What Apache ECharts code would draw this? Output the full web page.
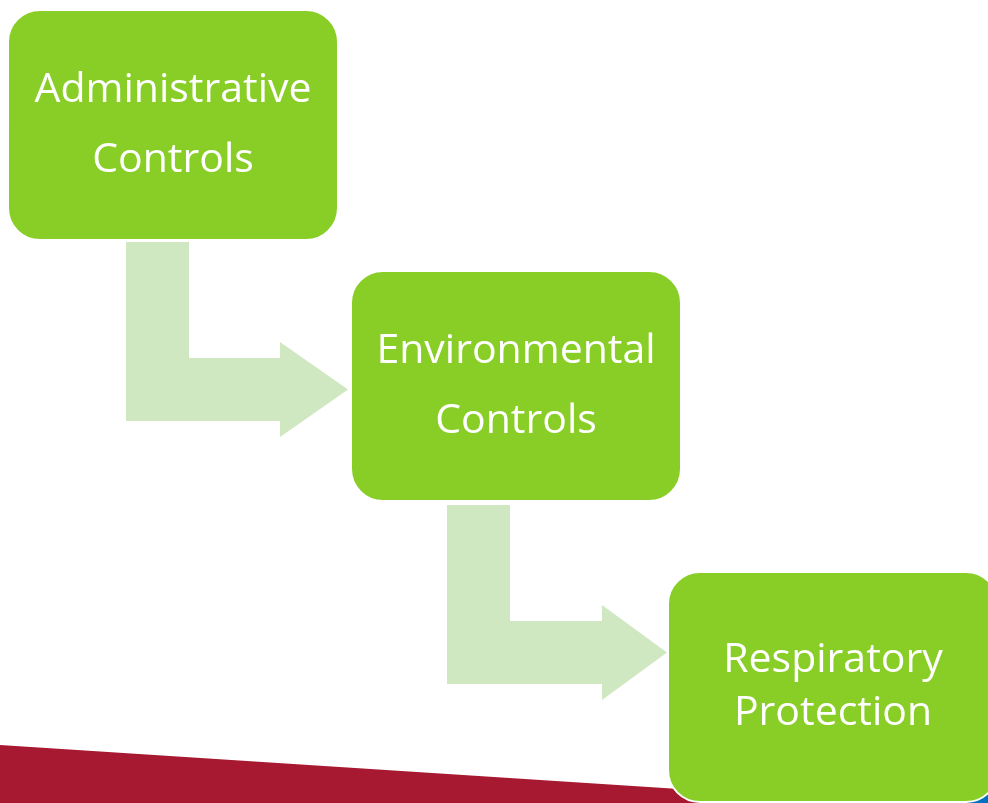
<!DOCTYPE html>
<html>
<head>
<meta charset="utf-8">
<title>Controls hierarchy</title>
<script src="https://cdn.jsdelivr.net/npm/echarts@6/dist/echarts.min.js"></script>
<style>
    html, body { margin: 0; padding: 0; background: #ffffff; }
    #main { width: 988px; height: 803px; }
</style>
</head>
<body>
<div id="main"></div>
<script>
// steps of the diagram, top to bottom
var stepNames = ["Administrative\nControls", "Environmental\nControls", "Respiratory\nProtection"];
var stepLineHeights = [70, 70, 53];

// layout of the boxes (left, top) and box size
var boxLeft = [8, 351, 668];
var boxTop = [10, 271, 572];
var boxWidth = 330;
var boxHeight = 230;

// bent arrows between the boxes: stem left, stem top, bar top, head base x, tip x
var arrowStemLeft = [126, 447];
var arrowStemTop = [242, 505];
var arrowBarTop = [358, 621];
var arrowHeadBase = [280, 602];
var arrowTip = [348, 667];

var GREEN = "#88ce26";
var PALE = "#cfe8c1";
var RED = "#a61930";
var BLUE = "#0070c0";

function buildArrow(i) {
    var sl = arrowStemLeft[i];
    var sr = sl + 63;
    var st = arrowStemTop[i];
    var bt = arrowBarTop[i];
    var bb = bt + 63;
    var hb = arrowHeadBase[i];
    var mid = (bt + bb) / 2;
    var half = 47.5;
    return {
        type: "polygon",
        shape: {
            points: [
                [sl, st], [sr, st], [sr, bt], [hb, bt], [hb, mid - half],
                [arrowTip[i], mid], [hb, mid + half], [hb, bb], [sl, bb]
            ]
        },
        style: {fill: PALE},
        z: 1
    };
}

function buildBox(i) {
    var cx = boxLeft[i] + boxWidth / 2;
    var cy = boxTop[i] + boxHeight / 2;
    return [{
        type: "rect",
        shape: {x: boxLeft[i], y: boxTop[i], width: boxWidth, height: boxHeight, r: 32},
        style: {fill: GREEN, stroke: "#ffffff", lineWidth: 2},
        z: 2
    }, {
        type: "text",
        style: {
            x: cx,
            y: cy,
            text: stepNames[i],
            fill: "#ffffff",
            font: "41px 'Open Sans', sans-serif",
            align: "center",
            verticalAlign: "middle",
            lineHeight: stepLineHeights[i]
        },
        z: 3
    }];
}

var elements = [];
// slide decoration at the bottom
elements.push({
    type: "polygon",
    shape: {points: [[900, 803], [988, 782], [988, 803]]},
    style: {fill: BLUE},
    z: 0
});
elements.push({
    type: "polygon",
    shape: {points: [[0, 745], [988, 809], [0, 809]]},
    style: {fill: RED},
    z: 0
});
for (var a = 0; a < arrowStemLeft.length; a++) {
    elements.push(buildArrow(a));
}
for (var b = 0; b < stepNames.length; b++) {
    elements = elements.concat(buildBox(b));
}

var chart = echarts.init(document.getElementById("main"));
chart.setOption({
    backgroundColor: "#ffffff",
    animation: false,
    graphic: {elements: elements}
});
</script>
</body>
</html>
